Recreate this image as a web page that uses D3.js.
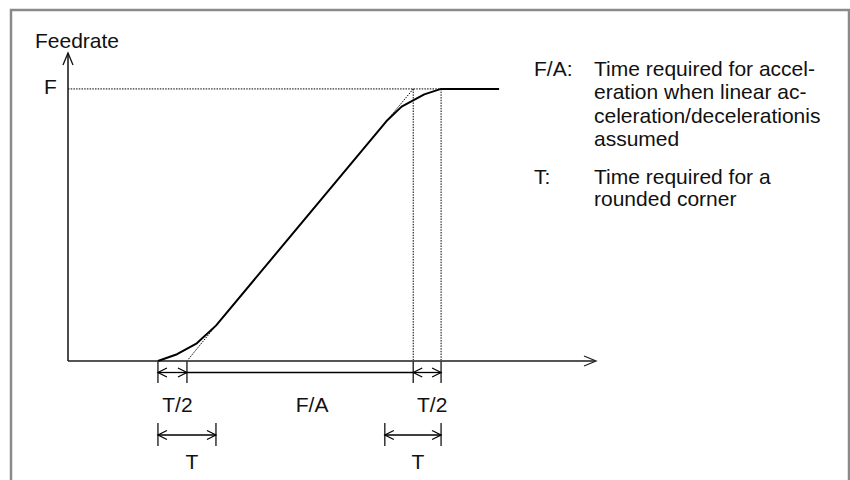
<!DOCTYPE html>
<html lang="en">
<head>
    <meta charset="UTF-8">
    <script src="https://d3js.org/d3.v7.min.js"></script>
    <style>
        body {
            margin: 0;
            padding: 0;
            background: #fff;
        }
        svg text {
            font-family: "Liberation Sans", Arial, sans-serif;
            fill: #111;
        }
    </style>
</head>
<body>
    <div id="chart"></div>
    <script>
        // Data (time in units of T, feedrate in units of F)
        const curveTime = [1.55, 1.88, 2.22, 2.55, 5.49, 5.75, 6.14, 6.43, 7.43];
        const curveRate = [0, 0.025, 0.065, 0.13, 0.882, 0.935, 0.98, 1, 1];
        const rampStart = 2.05;
        const rampEnd = 5.95;
        const cornerEnd = 6.43;
        const dimRow1 = [
            {from: 1.55, to: 2.05, label: "T/2", arrows: true},
            {from: 2.05, to: 5.95, label: "F/A", arrows: false},
            {from: 5.95, to: 6.43, label: "T/2", arrows: true}
        ];
        const dimRow2 = [
            {from: 1.55, to: 2.55, label: "T", arrows: true},
            {from: 5.46, to: 6.43, label: "T", arrows: true}
        ];
        const legendFA = ["Time required for accel-", "eration when linear ac-", "celeration/decelerationis", "assumed"];
        const legendT = ["Time required for a", "rounded corner"];

        const width = 850, height = 480;
        const fs = 21;
        const svg = d3.select("#chart").append("svg")
            .attr("width", width)
            .attr("height", height);

        // frame (open at the bottom)
        svg.append("path")
            .attr("d", `M11,${height + 2}V10H849V${height + 2}`)
            .attr("fill", "none")
            .attr("stroke", "#8a8a8a")
            .attr("stroke-width", 2.5);

        const x = d3.scaleLinear().domain([0, 9.10]).range([68, 596]);
        const y = d3.scaleLinear().domain([0, 1.132]).range([361, 53]);

        const line = d3.line().x(d => x(d[0])).y(d => y(d[1]));

        function openArrow(px, py, dir, len, half, color, sw) {
            let pts;
            if (dir === "right") pts = [[px - len, py - half], [px, py], [px - len, py + half]];
            else if (dir === "left") pts = [[px + len, py - half], [px, py], [px + len, py + half]];
            else pts = [[px - half, py + len], [px, py], [px + half, py + len]];
            svg.append("path")
                .attr("d", d3.line()(pts))
                .attr("fill", "none")
                .attr("stroke", color)
                .attr("stroke-width", sw);
        }

        // dotted guides
        const dotted = (pts) => svg.append("path")
            .attr("d", line(pts))
            .attr("fill", "none")
            .attr("stroke", "#000")
            .attr("stroke-width", 1)
            .attr("stroke-dasharray", "1.5,1.2");

        dotted([[0, 1], [cornerEnd, 1]]);
        dotted([[rampEnd, 1], [rampEnd, 0]]);
        dotted([[cornerEnd, 1], [cornerEnd, 0]]);
        dotted([[rampStart, 0], [curveTime[3], curveRate[3]]]);
        dotted([[curveTime[4], curveRate[4]], [rampEnd, 1]]);

        // axes
        svg.append("line")
            .attr("x1", x(0)).attr("y1", y(0))
            .attr("x2", x(9.10) - 1).attr("y2", y(0))
            .attr("stroke", "#555").attr("stroke-width", 2);
        openArrow(x(9.10), y(0), "right", 12, 5, "#222", 1.3);

        svg.append("line")
            .attr("x1", x(0)).attr("y1", y(0))
            .attr("x2", x(0)).attr("y2", y(1.132))
            .attr("stroke", "#111").attr("stroke-width", 1.5);
        openArrow(x(0), y(1.132), "up", 12, 5, "#111", 1.3);

        // feedrate curve
        svg.append("path")
            .attr("d", line(curveTime.map((t, i) => [t, curveRate[i]])))
            .attr("fill", "none")
            .attr("stroke", "#000")
            .attr("stroke-width", 2)
            .attr("stroke-linejoin", "round");

        // dimension rows
        function drawDims(dims, rowY, tickTop, tickBottom, labelY) {
            const ticks = new Set();
            dims.forEach(d => { ticks.add(d.from); ticks.add(d.to); });
            ticks.forEach(t => {
                svg.append("line")
                    .attr("x1", x(t)).attr("x2", x(t))
                    .attr("y1", tickTop).attr("y2", tickBottom)
                    .attr("stroke", "#333").attr("stroke-width", 1.5);
            });
            dims.forEach(d => {
                svg.append("line")
                    .attr("x1", x(d.from)).attr("x2", x(d.to))
                    .attr("y1", rowY).attr("y2", rowY)
                    .attr("stroke", "#000").attr("stroke-width", 1.3);
                if (d.arrows) {
                    openArrow(x(d.from), rowY, "left", 9, 4.5, "#000", 1.2);
                    openArrow(x(d.to), rowY, "right", 9, 4.5, "#000", 1.2);
                }
                svg.append("text")
                    .attr("x", (x(d.from) + x(d.to)) / 2 + (d.arrows ? 5 : 12))
                    .attr("y", labelY)
                    .attr("text-anchor", "middle")
                    .attr("font-size", fs)
                    .text(d.label);
            });
        }
        drawDims(dimRow1, 372.5, y(0), 383, 411.5);
        drawDims(dimRow2, 435, 423, 446, 469);

        // axis labels
        svg.append("text")
            .attr("x", 35).attr("y", 48)
            .attr("font-size", fs)
            .text("Feedrate");
        svg.append("text")
            .attr("x", 44).attr("y", y(1) + 5)
            .attr("font-size", fs)
            .text("F");

        // legend
        const legend = svg.append("g").attr("font-size", fs);
        legend.append("text").attr("x", 534).attr("y", 75.5).text("F/A:");
        legendFA.forEach((s, i) => {
            legend.append("text").attr("x", 594).attr("y", 75.5 + i * 23.5).text(s);
        });
        legend.append("text").attr("x", 534).attr("y", 183.5).text("T:");
        legendT.forEach((s, i) => {
            legend.append("text").attr("x", 594).attr("y", 183.5 + i * 22).text(s);
        });
    </script>
</body>
</html>
